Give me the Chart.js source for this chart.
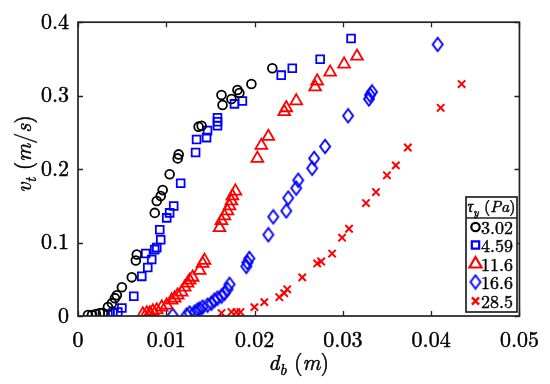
<!DOCTYPE html>
<html>
<head>
<meta charset="utf-8">
<script src="https://cdn.jsdelivr.net/npm/chart.js@4.4.0/dist/chart.umd.min.js"></script>
<style>
  html, body { margin: 0; padding: 0; background: #fff; }
  #wrap { width: 550px; height: 384px; }
  .preload { position: absolute; left: -999px; top: 0; font-family: 'Latin Modern Roman'; }
</style>
</head>
<body>
<div class="preload">0.01 <i>v m</i> τ</div>
<div id="wrap"><canvas id="bubbleChart" width="550" height="384"></canvas></div>
<script>
// d_b (m) and v_t (m/s), one pair of arrays per yield stress
const seriesLabels = ["3.02", "4.59", "11.6", "16.6", "28.5"];

const db302 = [0.00113, 0.00158, 0.00203, 0.00248, 0.00282, 0.00339, 0.00384, 0.00418, 0.0044, 0.00497, 0.00609, 0.00655, 0.00666, 0.00869, 0.00892, 0.00937, 0.00959, 0.01038, 0.01129, 0.0114, 0.01366, 0.014, 0.01625, 0.01637, 0.01738, 0.01806, 0.01828, 0.01964, 0.02201];
const vt302 = [0.0013, 0.0013, 0.0027, 0.004, 0.004, 0.0121, 0.0175, 0.0243, 0.0283, 0.0391, 0.0526, 0.0756, 0.0837, 0.1404, 0.1565, 0.1633, 0.1714, 0.193, 0.2146, 0.22, 0.2578, 0.2591, 0.3009, 0.2874, 0.2955, 0.3077, 0.3036, 0.3158, 0.3374];

const db459 = [0.00339, 0.00395, 0.00451, 0.00497, 0.00632, 0.00722, 0.00767, 0.0079, 0.00835, 0.00869, 0.00892, 0.00937, 0.00926, 0.01005, 0.01038, 0.01084, 0.01163, 0.01332, 0.01343, 0.01456, 0.01467, 0.0158, 0.0158, 0.0158, 0.01772, 0.01862, 0.02302, 0.02427, 0.02743, 0.03093];
const vt459 = [0.0027, 0.004, 0.0054, 0.0108, 0.027, 0.054, 0.085, 0.0661, 0.0769, 0.0904, 0.0931, 0.1039, 0.1174, 0.1336, 0.1404, 0.1498, 0.1808, 0.2227, 0.2402, 0.2429, 0.2524, 0.2699, 0.2645, 0.2591, 0.2888, 0.2928, 0.3279, 0.3374, 0.3495, 0.3779];

const db116 = [0.00734, 0.00779, 0.00813, 0.00847, 0.00892, 0.00948, 0.01005, 0.01061, 0.01095, 0.01129, 0.01174, 0.01208, 0.01242, 0.01264, 0.01298, 0.01377, 0.01411, 0.01433, 0.01603, 0.01625, 0.01659, 0.01693, 0.01716, 0.01738, 0.01749, 0.01783, 0.02032, 0.02077, 0.02156, 0.02336, 0.02359, 0.02472, 0.02686, 0.02709, 0.02856, 0.03014, 0.0316];
const vt116 = [0.0027, 0.004, 0.004, 0.0067, 0.0081, 0.0121, 0.0148, 0.0216, 0.0243, 0.0283, 0.0324, 0.0391, 0.0445, 0.0486, 0.0526, 0.0621, 0.0715, 0.0756, 0.1201, 0.1296, 0.1363, 0.1431, 0.1498, 0.1565, 0.1633, 0.17, 0.2146, 0.2321, 0.2443, 0.278, 0.2834, 0.2928, 0.3117, 0.3198, 0.332, 0.3428, 0.3536];

const db166 = [0.01072, 0.0123, 0.01264, 0.01321, 0.01354, 0.01377, 0.01411, 0.01467, 0.01512, 0.01546, 0.0158, 0.01625, 0.01659, 0.01693, 0.01716, 0.01907, 0.01919, 0.01941, 0.02156, 0.02212, 0.02359, 0.02381, 0.02472, 0.02494, 0.02652, 0.02675, 0.02799, 0.03059, 0.03296, 0.03307, 0.0333, 0.04074];
const vt166 = [0.001, 0.0013, 0.004, 0.0054, 0.0081, 0.0094, 0.0121, 0.0148, 0.0175, 0.0216, 0.0243, 0.027, 0.031, 0.0364, 0.0432, 0.0675, 0.0729, 0.0783, 0.1107, 0.135, 0.1431, 0.1606, 0.1741, 0.1849, 0.2011, 0.2146, 0.2308, 0.2726, 0.2955, 0.3009, 0.305, 0.3698];

const db285 = [0.01625, 0.01738, 0.01795, 0.0184, 0.01998, 0.02111, 0.0228, 0.02336, 0.0237, 0.0254, 0.02709, 0.02754, 0.02878, 0.02991, 0.0307, 0.03262, 0.03375, 0.03499, 0.036, 0.03736, 0.04108, 0.04345];
const vt285 = [0.004, 0.0054, 0.0054, 0.0054, 0.0121, 0.0189, 0.0256, 0.031, 0.0364, 0.0526, 0.0715, 0.0742, 0.085, 0.1066, 0.1188, 0.1538, 0.1687, 0.1916, 0.2051, 0.2294, 0.2834, 0.3158];

const xTicks = [0, 0.01, 0.02, 0.03, 0.04, 0.05];
const yTicks = [0, 0.1, 0.2, 0.3, 0.4];

const SERIF = "'Latin Modern Roman', 'Liberation Serif', serif";
const pts = (xs, ys) => xs.map((x, i) => ({ x, y: ys[i] }));

// matlab style diamond is taller than wide
function diamond(w, h, color, lw) {
  const c = document.createElement('canvas');
  c.width = w + 4; c.height = h + 4;
  const g = c.getContext('2d');
  const cx = c.width / 2, cy = c.height / 2;
  g.strokeStyle = color; g.lineWidth = lw; g.lineJoin = 'miter';
  g.beginPath();
  g.moveTo(cx, cy - h / 2); g.lineTo(cx + w / 2, cy); g.lineTo(cx, cy + h / 2); g.lineTo(cx - w / 2, cy);
  g.closePath(); g.stroke();
  return c;
}

const styles = [
  { pointStyle: 'circle', color: '#000000', r: 4.4, lw: 1.8, lr: 4.2 },
  { pointStyle: 'rect', color: '#0000ff', r: 5.5, lw: 1.8, lr: 5.2 },
  { pointStyle: 'triangle', color: '#ff0000', r: 6.8, lw: 1.8, lr: 7 },
  { pointStyle: diamond(10, 13.5, '#0000ff', 1.9), color: '#0000ff', r: 6, lw: 1.8, lr: 6 },
  { pointStyle: 'crossRot', color: '#ff0000', r: 5.2, lw: 2, lr: 5 }
];
const seriesData = [pts(db302, vt302), pts(db459, vt459), pts(db116, vt116), pts(db166, vt166), pts(db285, vt285)];

function drawRich(ctx, parts, x, y, size, align) {
  let total = 0;
  const items = parts.map(p => {
    const s = p.sub ? size * 0.7 : size;
    const f = (p.it ? 'italic ' : '') + s + 'px ' + SERIF;
    ctx.font = f;
    const w = ctx.measureText(p.t).width;
    total += w;
    return { p, f, w };
  });
  let cx = align === 'center' ? x - total / 2 : x;
  ctx.lineWidth = 0.45;
  ctx.strokeStyle = '#000';
  items.forEach(it => {
    ctx.font = it.f;
    const yy = y + (it.p.sub ? size * 0.22 : 0);
    ctx.fillText(it.p.t, cx, yy);
    ctx.strokeText(it.p.t, cx, yy);
    cx += it.w;
  });
}

const framePlugin = {
  id: 'frame',
  afterDatasetsDraw(chart) {
    const { ctx, chartArea: a, scales } = chart;
    ctx.save();
    ctx.strokeStyle = '#222';
    ctx.lineWidth = 1.7;
    ctx.strokeRect(a.left, a.top, a.right - a.left, a.bottom - a.top);
    ctx.lineWidth = 1.3;
    ctx.beginPath();
    xTicks.forEach(v => {
      const px = Math.round(scales.x.getPixelForValue(v)) + 0.5;
      ctx.moveTo(px, a.bottom); ctx.lineTo(px, a.bottom - 5);
      ctx.moveTo(px, a.top); ctx.lineTo(px, a.top + 5);
    });
    yTicks.forEach(v => {
      const py = Math.round(scales.y.getPixelForValue(v)) + 0.5;
      ctx.moveTo(a.left, py); ctx.lineTo(a.left + 5, py);
      ctx.moveTo(a.right, py); ctx.lineTo(a.right - 5, py);
    });
    ctx.stroke();

    // legend box
    const lx = 466, ly = 197, lw = 51, lh = 115;
    ctx.fillStyle = '#fff';
    ctx.fillRect(lx, ly, lw, lh);
    ctx.lineWidth = 1.7;
    ctx.strokeStyle = '#222';
    ctx.strokeRect(lx, ly, lw, lh);
    ctx.beginPath();
    ctx.moveTo(lx, ly + 21); ctx.lineTo(lx + lw, ly + 21);
    ctx.stroke();
    ctx.fillStyle = '#000';
    ctx.textBaseline = 'alphabetic';
    drawRich(ctx, [{ t: 'τ', it: true }, { t: 'y', it: true, sub: true }, { t: ' (' }, { t: 'Pa', it: true }, { t: ')' }], lx + lw / 2, ly + 15, 16, 'center');
    const rows = [227, 245, 264, 282, 301];
    seriesLabels.forEach((lab, i) => {
      const st = styles[i];
      ctx.strokeStyle = st.color;
      ctx.fillStyle = 'rgba(0,0,0,0)';
      ctx.lineWidth = st.lw + 0.4;
      Chart.helpers.drawPoint(ctx, { pointStyle: st.pointStyle, radius: st.lr, rotation: 0, borderWidth: st.lw }, 475.5, rows[i]);
      ctx.fillStyle = '#000';
      ctx.strokeStyle = '#000';
      ctx.lineWidth = 0.4;
      ctx.font = '18px ' + SERIF;
      ctx.textBaseline = 'middle';
      ctx.fillText(lab, 481, rows[i] + 1);
      ctx.strokeText(lab, 481, rows[i] + 1);
    });
    ctx.restore();
  },
  afterDraw(chart) {
    const { ctx, chartArea: a } = chart;
    ctx.save();
    ctx.fillStyle = '#000';
    ctx.textBaseline = 'alphabetic';
    drawRich(ctx, [{ t: 'd', it: true }, { t: 'b', it: true, sub: true }, { t: ' (' }, { t: 'm', it: true }, { t: ')' }], (a.left + a.right) / 2, 370, 22, 'center');
    ctx.translate(31, 154);
    ctx.rotate(-Math.PI / 2);
    drawRich(ctx, [{ t: 'v', it: true }, { t: 't', it: true, sub: true }, { t: ' (' }, { t: 'm', it: true }, { t: '/' }, { t: 's', it: true }, { t: ')' }], 0, 0, 22, 'center');
    ctx.restore();
  }
};

function build() {
  const ctx = document.getElementById('bubbleChart');
  new Chart(ctx, {
    type: 'scatter',
    data: {
      datasets: seriesData.map((d, i) => ({
        label: seriesLabels[i],
        data: d,
        pointStyle: styles[i].pointStyle,
        pointRadius: styles[i].r,
        pointHoverRadius: styles[i].r,
        pointBorderWidth: styles[i].lw,
        borderColor: styles[i].color,
        backgroundColor: 'rgba(0,0,0,0)',
        showLine: false
      }))
    },
    options: {
      responsive: false,
      animation: false,
      layout: { padding: { left: 0, right: 29, top: 19, bottom: 0 } },
      plugins: { legend: { display: false }, tooltip: { enabled: false } },
      scales: {
        x: {
          type: 'linear', min: 0, max: 0.05,
          afterBuildTicks: s => { s.ticks = xTicks.map(v => ({ value: v })); },
          afterFit: s => { s.height = 68; },
          grid: { display: false, drawTicks: false },
          border: { display: false },
          ticks: { color: '#000', textStrokeColor: '#000', textStrokeWidth: 0.45, padding: 11, font: { family: SERIF, size: 22 }, callback: v => String(+v.toFixed(2)) }
        },
        y: {
          type: 'linear', min: 0, max: 0.4,
          afterBuildTicks: s => { s.ticks = yTicks.map(v => ({ value: v })); },
          afterFit: s => { s.width = 78; },
          grid: { display: false, drawTicks: false },
          border: { display: false },
          ticks: { color: '#000', textStrokeColor: '#000', textStrokeWidth: 0.45, padding: 9, font: { family: SERIF, size: 22 }, callback: v => String(+v.toFixed(2)) }
        }
      }
    },
    plugins: [framePlugin]
  });
}

document.fonts.ready.then(() => Promise.all([
  document.fonts.load("22px 'Latin Modern Roman'"),
  document.fonts.load("italic 22px 'Latin Modern Roman'")
])).then(() => setTimeout(build, 50), build);
</script>
</body>
</html>
